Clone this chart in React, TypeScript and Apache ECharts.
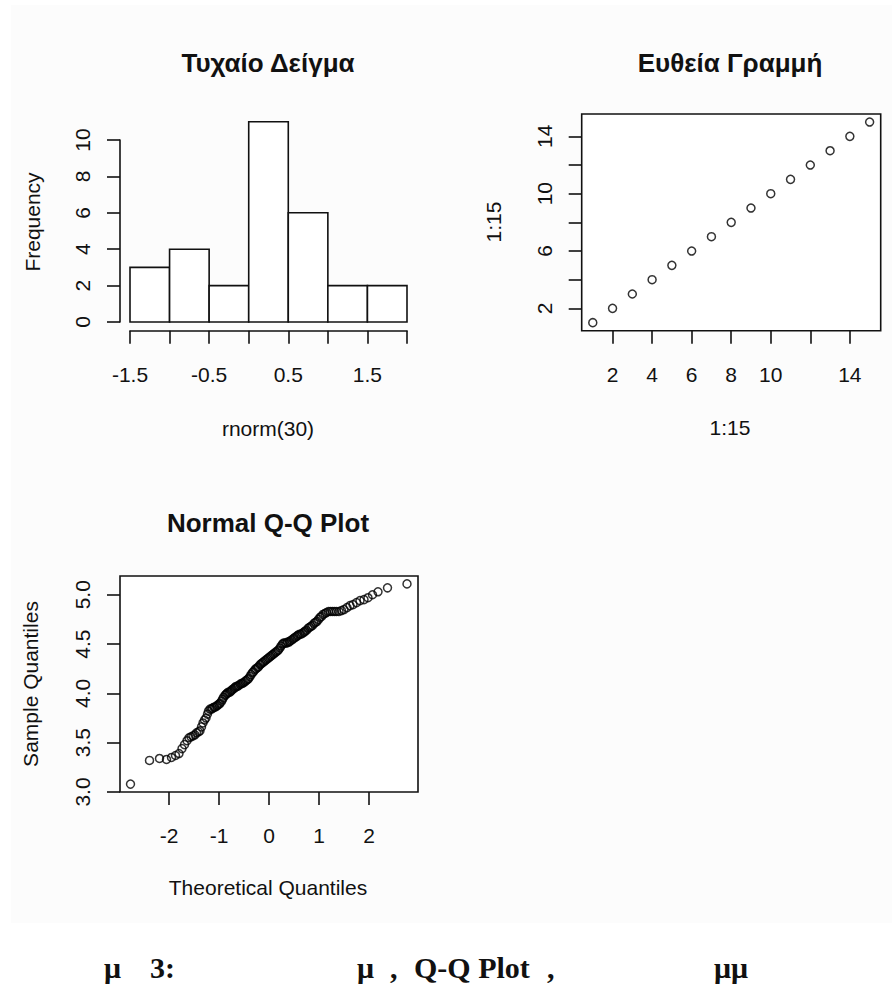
import React, { useEffect, useRef } from "react";
import * as echarts from "echarts";

// Histogram of rnorm(30)
const histBreaks = [-1.5, -1.0, -0.5, 0, 0.5, 1.0, 1.5, 2.0];
const histCounts = [3, 4, 2, 11, 6, 2, 2];
const histXLabels = [-1.5, -0.5, 0.5, 1.5];
const histYTicks = [0, 2, 4, 6, 8, 10];

// Straight line 1:15
const lineX = [1, 2, 3, 4, 5, 6, 7, 8, 9, 10, 11, 12, 13, 14, 15];
const lineY = [1, 2, 3, 4, 5, 6, 7, 8, 9, 10, 11, 12, 13, 14, 15];
const lineXTicks = [2, 4, 6, 8, 10, 12, 14];
const lineXLabels = [2, 4, 6, 8, 10, 14];
const lineYTicks = [2, 4, 6, 8, 10, 12, 14];
const lineYLabels = [2, 6, 10, 14];

// Normal Q-Q plot (theoretical, sample)
const qqTheoretical = [
  -2.77, -2.39, -2.19, -2.05, -1.95, -1.87, -1.8, -1.74, -1.69, -1.64, -1.6, -1.56, -1.52, -1.48, -1.45,
  -1.41, -1.38, -1.35, -1.32, -1.29, -1.26, -1.23, -1.21, -1.18, -1.15, -1.13, -1.1, -1.08, -1.05, -1.03,
  -1.0, -0.98, -0.95, -0.93, -0.91, -0.88, -0.86, -0.84, -0.82, -0.79, -0.77, -0.75, -0.73, -0.7, -0.68,
  -0.66, -0.63, -0.61, -0.58, -0.56, -0.53, -0.51, -0.48, -0.46, -0.43, -0.41, -0.38, -0.36, -0.33, -0.31,
  -0.28, -0.26, -0.23, -0.21, -0.18, -0.16, -0.13, -0.11, -0.08, -0.06, -0.03, -0.01, 0.02, 0.04, 0.07,
  0.09, 0.12, 0.14, 0.17, 0.19, 0.22, 0.24, 0.27, 0.29, 0.32, 0.35, 0.37, 0.4, 0.42, 0.45,
  0.48, 0.5, 0.53, 0.56, 0.58, 0.61, 0.64, 0.67, 0.7, 0.72, 0.75, 0.78, 0.81, 0.84, 0.87,
  0.9, 0.93, 0.96, 0.99, 1.02, 1.05, 1.08, 1.12, 1.15, 1.19, 1.23, 1.27, 1.31, 1.35, 1.4,
  1.45, 1.5, 1.56, 1.62, 1.68, 1.75, 1.82, 1.9, 1.98, 2.07, 2.18, 2.37, 2.76,
];
const qqSample = [
  3.08, 3.32, 3.34, 3.33, 3.35, 3.37, 3.39, 3.44, 3.48, 3.52, 3.55, 3.56, 3.57, 3.58, 3.6,
  3.61, 3.62, 3.66, 3.7, 3.73, 3.75, 3.79, 3.82, 3.84, 3.84, 3.85, 3.86, 3.86, 3.87, 3.88,
  3.89, 3.9, 3.92, 3.94, 3.96, 3.98, 3.99, 4.0, 4.01, 4.01, 4.02, 4.03, 4.04, 4.05, 4.06,
  4.07, 4.07, 4.08, 4.09, 4.1, 4.1, 4.11, 4.12, 4.13, 4.14, 4.15, 4.17, 4.19, 4.21, 4.22,
  4.24, 4.25, 4.26, 4.27, 4.29, 4.3, 4.31, 4.32, 4.33, 4.34, 4.35, 4.36, 4.37, 4.38, 4.39,
  4.4, 4.41, 4.42, 4.43, 4.44, 4.46, 4.48, 4.5, 4.51, 4.51, 4.51, 4.52, 4.52, 4.53, 4.54,
  4.55, 4.56, 4.57, 4.58, 4.59, 4.6, 4.6, 4.61, 4.62, 4.63, 4.64, 4.66, 4.67, 4.68, 4.69,
  4.71, 4.72, 4.73, 4.75, 4.77, 4.78, 4.8, 4.81, 4.82, 4.83, 4.83, 4.83, 4.83, 4.83, 4.83,
  4.84, 4.85, 4.87, 4.89, 4.9, 4.92, 4.94, 4.95, 4.97, 5.0, 5.03, 5.07, 5.11,
];
const qqXTicks = [-2, -1, 0, 1, 2];
const qqYTicks = [3.0, 3.5, 4.0, 4.5, 5.0];

const SANS = "'Liberation Sans', Arial, sans-serif";
const SERIF = "'Liberation Serif', 'Times New Roman', serif";
const INK = "#111";
const LW = 1.6;
const TICK_FONT = 21;
const X_MARGIN = 33;
const Y_MARGIN = 27;

function tickStyle(customValues?: number[]) {
  const t: any = { show: true, inside: false, length: 13, lineStyle: { color: INK, width: LW } };
  if (customValues) t.customValues = customValues;
  return t;
}

function labelStyle(margin: number, extra: any = {}) {
  return { color: INK, fontSize: TICK_FONT, fontFamily: SANS, margin, ...extra };
}

function axisBase(extra: any) {
  return {
    type: "value",
    splitLine: { show: false },
    axisLine: { show: false, onZero: false, lineStyle: { color: INK, width: LW } },
    axisTick: tickStyle(),
    ...extra,
  };
}

function txt(text: string, x: number, y: number, opts: any = {}) {
  const { rotation, font, ...rest } = opts;
  return {
    type: "text",
    x,
    y,
    rotation: rotation || 0,
    silent: true,
    style: {
      text,
      fill: INK,
      font: font || `21px ${SANS}`,
      textAlign: "center",
      textVerticalAlign: "middle",
      align: "center",
      verticalAlign: "middle",
      ...rest,
    },
  };
}

const CAP_FONT = `bold 30px ${SERIF}`;
const capLeft = { font: CAP_FONT, textAlign: "left", align: "left" };

export default function App() {
  const ref = useRef<HTMLDivElement>(null);
  useEffect(() => {
    document.body.style.margin = "0";
    if (!ref.current) return;
    const chart = echarts.init(ref.current, null, { renderer: "svg" });
    const histData = histCounts.map((c, i) => [histBreaks[i], histBreaks[i + 1], c]);
    const lineData = lineX.map((x, i) => [x, lineY[i]]);
    const qqData = qqTheoretical.map((x, i) => [x, qqSample[i]]);
    const pointStyle = { color: "rgba(255,255,255,0)", borderColor: "#000", borderWidth: 1.5 };

    chart.setOption({
      animation: false,
      backgroundColor: "#ffffff",
      grid: [
        { left: 130, top: 140, width: 277, height: 182 },
        { left: 581.7, top: 114, width: 299, height: 216.7, show: true, borderColor: INK, borderWidth: LW, backgroundColor: "#fff" },
        { left: 120, top: 576, width: 298, height: 216, show: true, borderColor: INK, borderWidth: LW, backgroundColor: "#fff" },
      ],
      xAxis: [
        axisBase({
          gridIndex: 0, min: -1.5, max: 2.0, interval: 0.5, position: "bottom", offset: 8.7,
          axisLine: { show: true, onZero: false, lineStyle: { color: INK, width: LW } },
          axisLabel: labelStyle(X_MARGIN, {
            customValues: histXLabels,
            formatter: (v: number) => (histXLabels.indexOf(v) >= 0 ? String(v) : ""),
          }),
        }),
        axisBase({
          gridIndex: 1, min: 0.44, max: 15.56, position: "bottom",
          axisTick: tickStyle(lineXTicks),
          axisLabel: labelStyle(X_MARGIN, { customValues: lineXLabels }),
        }),
        axisBase({
          gridIndex: 2, min: -2.98, max: 2.98, position: "bottom",
          axisTick: tickStyle(qqXTicks),
          axisLabel: labelStyle(X_MARGIN, { customValues: qqXTicks }),
        }),
      ],
      yAxis: [
        axisBase({
          gridIndex: 0, min: 0, max: 10, interval: 2, position: "left", offset: 10,
          axisLine: { show: true, onZero: false, lineStyle: { color: INK, width: LW } },
          axisLabel: labelStyle(Y_MARGIN, { rotate: 90, customValues: histYTicks }),
        }),
        axisBase({
          gridIndex: 1, min: 0.44, max: 15.56, position: "left",
          axisTick: tickStyle(lineYTicks),
          axisLabel: labelStyle(Y_MARGIN, { rotate: 90, customValues: lineYLabels }),
        }),
        axisBase({
          gridIndex: 2, min: 3.0, max: 5.19, position: "left",
          axisTick: tickStyle(qqYTicks),
          axisLabel: labelStyle(Y_MARGIN, {
            rotate: 90, customValues: qqYTicks,
            formatter: (v: number) => v.toFixed(1),
          }),
        }),
      ],
      series: [
        {
          type: "custom",
          xAxisIndex: 0,
          yAxisIndex: 0,
          clip: false,
          data: histData,
          encode: { x: [0, 1], y: 2 },
          renderItem: (params: any, api: any) => {
            const p0 = api.coord([api.value(0), api.value(2)]);
            const p1 = api.coord([api.value(1), 0]);
            return {
              type: "rect",
              shape: { x: p0[0], y: p0[1], width: p1[0] - p0[0], height: p1[1] - p0[1] },
              style: { fill: "#fff", stroke: INK, lineWidth: LW },
            };
          },
        },
        {
          type: "scatter",
          xAxisIndex: 1,
          yAxisIndex: 1,
          data: lineData,
          symbol: "circle",
          symbolSize: 8,
          itemStyle: pointStyle,
        },
        {
          type: "scatter",
          xAxisIndex: 2,
          yAxisIndex: 2,
          data: qqData,
          symbol: "circle",
          symbolSize: 8,
          itemStyle: pointStyle,
        },
      ],
      graphic: [
        { type: "rect", z: -10, silent: true, shape: { x: 11, y: 5, width: 881, height: 918 }, style: { fill: "#fcfcfc" } },
        txt("Τυχαίο Δείγμα", 268, 63, { font: `bold 26px ${SANS}` }),
        txt("Ευθεία Γραμμή", 730, 63, { font: `bold 26px ${SANS}` }),
        txt("Normal Q-Q Plot", 268, 523, { font: `bold 26px ${SANS}` }),
        txt("rnorm(30)", 268, 428),
        txt("Frequency", 32, 222, { rotation: Math.PI / 2 }),
        txt("1:15", 730, 427),
        txt("1:15", 493, 222, { rotation: Math.PI / 2 }),
        txt("Theoretical Quantiles", 268, 887),
        txt("Sample Quantiles", 30, 684, { rotation: Math.PI / 2 }),
        txt("μ", 104, 967, capLeft),
        txt("3:", 150, 967, capLeft),
        txt("μ", 357, 967, capLeft),
        txt(",", 390, 967, capLeft),
        txt("Q-Q Plot", 414, 967, capLeft),
        txt(",", 547, 967, capLeft),
        txt("μμ", 714, 967, capLeft),
      ],
    });
    return () => chart.dispose();
  }, []);
  return <div ref={ref} style={{ width: 892, height: 987 }} />;
}
